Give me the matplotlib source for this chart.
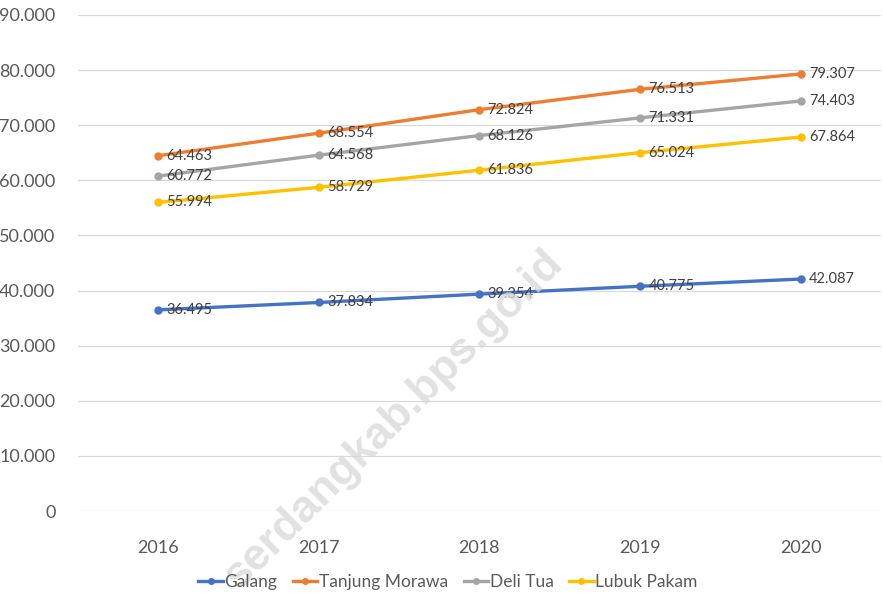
import matplotlib
matplotlib.use("Agg")
import matplotlib.pyplot as plt
from matplotlib.ticker import FuncFormatter

years = ["2016", "2017", "2018", "2019", "2020"]
galang = [36495, 37834, 39354, 40775, 42087]
tanjung_morawa = [64463, 68554, 72824, 76513, 79307]
deli_tua = [60772, 64568, 68126, 71331, 74403]
lubuk_pakam = [55994, 58729, 61836, 65024, 67864]

series = [
    ("Galang", galang, "#4472C4"),
    ("Tanjung Morawa", tanjung_morawa, "#ED7D31"),
    ("Deli Tua", deli_tua, "#A5A5A5"),
    ("Lubuk Pakam", lubuk_pakam, "#FFC000"),
]

plt.rcParams["font.family"] = ["Lato", "DejaVu Sans"]

fig = plt.figure(figsize=(8.83, 5.97), dpi=100)
ax = fig.add_axes([77.6 / 883, 1 - 511 / 597, (881 - 77.6) / 883, (511 - 15) / 597])

x = list(range(len(years)))
for name, vals, color in series:
    ax.plot(x, vals, color=color, lw=2.4, marker="o", ms=5, label=name, zorder=3)
    for xi, v in zip(x, vals):
        ax.annotate(f"{v:,}".replace(",", "."), (xi, v), xytext=(6, 0), textcoords="offset points",
                    ha="left", va="center", fontsize=10.5, color="#404040", zorder=4)

ax.set_xlim(-0.5, len(years) - 0.5)
ax.set_ylim(0, 90000)
ax.set_yticks(range(0, 90001, 10000))
ax.yaxis.set_major_formatter(FuncFormatter(lambda v, p: "0" if v == 0 else f"{int(v):,}".replace(",", ".")))
ax.set_xticks(x)
ax.set_xticklabels(years)
ax.tick_params(axis="y", length=0, pad=16, labelsize=13, labelcolor="#595959")
ax.tick_params(axis="x", length=0, pad=21, labelsize=13, labelcolor="#595959")
ax.grid(axis="y", color="#D9D9D9", lw=0.9, zorder=0)
ax.set_axisbelow(True)
for s in ax.spines.values():
    s.set_visible(False)

# watermark
fig.text(565, 597 - 265, "serdangkab.bps.go.id", transform=None, rotation=45,
         rotation_mode="anchor", ha="right", va="baseline", fontsize=32,
         fontweight="bold", family="Liberation Sans", color="#DADADA", alpha=0.8, zorder=1)

leg = fig.legend(loc="center", bbox_to_anchor=(448 / 883, 1 - 582 / 597), ncol=4, frameon=False,
                 fontsize=12.5, handlelength=1.4, handletextpad=0.1, columnspacing=0.9,
                 labelcolor="#595959", markerscale=0.8)

fig.savefig("out.png", dpi=100, facecolor="white")
